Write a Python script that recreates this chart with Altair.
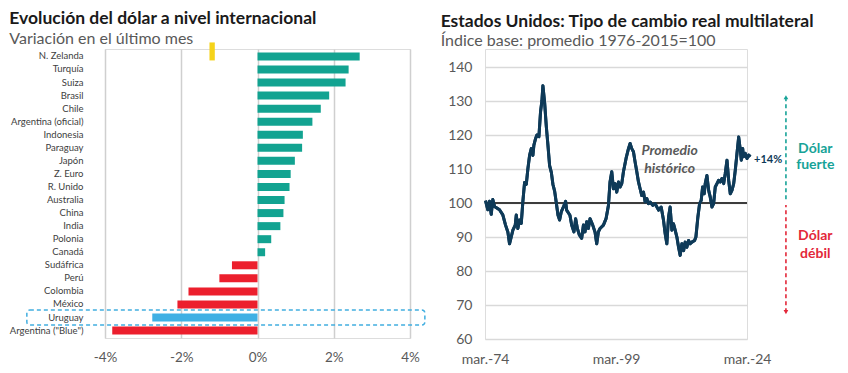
import altair as alt
import pandas as pd

# ---------------- Data: left panel ----------------
paises = ["N. Zelanda", "Turquía", "Suiza", "Brasil", "Chile", "Argentina (oficial)",
          "Indonesia", "Paraguay", "Japón", "Z. Euro", "R. Unido", "Australia", "China",
          "India", "Polonia", "Canadá", "Sudáfrica", "Perú", "Colombia", "México",
          "Uruguay", "Argentina (\"Blue\")"]
variacion = [2.68, 2.39, 2.31, 1.88, 1.66, 1.44, 1.19, 1.17, 0.98, 0.87, 0.84, 0.71, 0.68,
             0.60, 0.36, 0.20, -0.67, -1.00, -1.81, -2.10, -2.76, -3.81]
grupo = ["sube"] * 16 + ["baja"] * 4 + ["uruguay", "baja"]
grupo_dom = ["sube", "baja", "uruguay"]
grupo_col = ["#12a391", "#ec1f2d", "#3fb0e4"]
x_ticks_left = [-4, -2, 0, 2, 4]

# ---------------- Data: right panel ----------------
anios = [1974.27, 1974.71, 1975.03, 1975.36, 1975.66, 1975.99, 1976.94, 1977.57, 1978.09, 1978.53,
         1978.85, 1979.49, 1979.94, 1980.14, 1980.44, 1980.77, 1981.09, 1981.40, 1981.72, 1982.05,
         1982.35, 1982.68, 1983.00, 1983.31, 1983.50, 1983.83, 1984.07, 1984.46, 1984.78, 1985.03,
         1985.22, 1985.55, 1985.87, 1986.18, 1986.50, 1986.83, 1987.13, 1987.46, 1987.78, 1988.09,
         1988.41, 1988.74, 1989.18, 1989.56, 1989.75, 1990.38, 1990.71, 1991.15, 1991.47, 1991.80,
         1992.18, 1992.62, 1992.95, 1993.25, 1993.58, 1993.90, 1994.21, 1994.73, 1995.16, 1995.49,
         1995.81, 1996.12, 1996.77, 1997.27, 1997.73, 1998.03, 1998.36, 1998.68, 1998.99, 1999.32,
         1999.64, 1999.95, 2000.27, 2000.59, 2001.09, 2001.55, 2001.86, 2002.18, 2002.50, 2002.81,
         2003.14, 2003.46, 2003.77, 2004.09, 2004.42, 2004.73, 2005.05, 2005.37, 2005.68, 2006.20,
         2006.64, 2007.29, 2007.79, 2008.24, 2008.55, 2008.87, 2009.20, 2009.50, 2009.83, 2010.15,
         2010.46, 2010.79, 2011.11, 2011.42, 2011.74, 2012.07, 2012.37, 2012.70, 2013.02, 2013.33,
         2013.65, 2014.17, 2014.42, 2014.80, 2015.12, 2015.43, 2015.70, 2016.01, 2016.20, 2016.52,
         2016.85, 2017.15, 2017.48, 2017.80, 2018.11, 2018.44, 2018.76, 2019.07, 2019.39, 2019.72,
         2020.02, 2020.35, 2020.67, 2020.98, 2021.30, 2021.63, 2021.93, 2022.26, 2022.58, 2022.89,
         2023.08, 2023.35, 2023.50, 2023.84, 2024.17, 2024.50, 2024.80]
indice = [100.7, 98.0, 100.5, 96.7, 101.0, 99.0, 98.0, 96.5, 93.5, 91.5,
          88.0, 92.0, 93.5, 96.5, 92.5, 95.0, 94.0, 100.5, 106.0, 105.5,
          110.0, 114.0, 116.0, 114.0, 117.0, 119.0, 120.0, 119.5, 127.0, 130.0,
          134.5, 129.5, 122.5, 117.0, 111.0, 109.0, 105.5, 103.5, 100.0, 96.5,
          95.0, 97.5, 99.0, 100.5, 97.9, 96.4, 93.5, 91.5, 95.4, 92.5,
          90.6, 89.6, 93.5, 91.5, 94.5, 92.5, 95.4, 93.5, 91.5, 88.0,
          91.5, 92.5, 93.5, 95.4, 99.3, 106.2, 109.2, 104.2, 105.7, 103.2,
          106.2, 104.7, 105.7, 109.2, 113.1, 116.0, 117.5, 116.0, 115.1, 112.1,
          109.2, 106.2, 104.2, 102.2, 103.2, 100.3, 101.3, 99.8, 100.3, 99.3,
          99.8, 97.9, 98.8, 94.9, 91.0, 88.0, 95.9, 98.8, 92.0, 93.9,
          92.0, 90.0, 87.0, 84.6, 88.0, 86.0, 88.5, 87.0, 89.0, 88.0,
          88.5, 89.0, 90.0, 95.9, 99.8, 100.8, 104.7, 102.7, 105.7, 108.1,
          103.7, 101.8, 98.8, 99.8, 104.7, 105.7, 106.7, 106.2, 107.2, 105.7,
          108.7, 112.6, 106.7, 102.7, 103.7, 105.7, 109.6, 114.6, 119.4, 115.6,
          112.6, 116.0, 113.6, 114.6, 113.1, 114.1, 113.6]
x_ticks_right = [1974.17, 1999.17, 2024.17]
x_labels_right = ["mar.-74", "mar.-99", "mar.-24"]
y_ticks_right = [60, 70, 80, 90, 100, 110, 120, 130, 140]
promedio = [100]

FONT = "Lato"
GRAY = "#595959"
TEAL = "#17a398"
RED = "#e3283a"
NAVY = "#0e3a58"

# ---------------- Left panel ----------------
df_bar = pd.DataFrame({"pais": paises, "variacion": variacion, "grupo": grupo})
xsc = alt.Scale(domain=[-4, 4], nice=False, zero=False)
ysc = alt.Scale(paddingInner=0, paddingOuter=0.07)

bars = alt.Chart(df_bar).mark_bar(size=8).encode(
    x=alt.X("variacion:Q", scale=xsc,
            axis=alt.Axis(values=x_ticks_left, labelExpr="datum.value + '%'", grid=True,
                          gridColor="#cfcfcf", gridWidth=1.5, ticks=False, domain=False,
                          labelFontSize=13.5, labelColor=GRAY, labelPadding=12,
                          labelFlush=False, labelFont=FONT, title=None)),
    y=alt.Y("pais:N", sort=paises, scale=ysc,
            axis=alt.Axis(title=None, ticks=False, domain=False, labelFontSize=9.5,
                          labelColor="#404040", labelPadding=22, labelLimit=200,
                          labelFont=FONT)),
    color=alt.Color("grupo:N", scale=alt.Scale(domain=grupo_dom, range=grupo_col), legend=None),
)

highlight = alt.Chart(df_bar).transform_filter("datum.pais == 'Uruguay'").mark_bar(
    filled=False, stroke="#41aee0", strokeWidth=1.5, strokeDash=[4, 3], size=15,
    cornerRadius=3, clip=False
).encode(x=alt.datum(-6.05), x2=alt.datum(4.39), y=alt.Y("pais:N", sort=paises))

yellow = alt.Chart(df_bar).transform_filter("datum.pais == 'N. Zelanda'").mark_bar(
    size=18, yOffset=-5, color="#f5d31a", clip=False
).encode(x=alt.datum(-1.26), x2=alt.datum(-1.12), y=alt.Y("pais:N", sort=paises))

left = alt.layer(bars, highlight, yellow).properties(
    width=305, height=289,
    title=alt.TitleParams("Evolución del dólar a nivel internacional",
                          subtitle="Variación en el último mes", anchor="start",
                          frame="bounds", font=FONT, fontSize=17.5, fontWeight="bold",
                          color="#1a1a1a", subtitleFont=FONT, subtitleFontSize=16,
                          subtitleColor=GRAY, subtitlePadding=3, offset=-4.5),
)

# ---------------- Right panel ----------------
df_line = pd.DataFrame({"anio": anios, "indice": indice})
xr = alt.Scale(domain=[x_ticks_right[0], x_ticks_right[-1]], nice=False, zero=False)
yr = alt.Scale(domain=[60, 145.3], nice=False, zero=False)

label_expr = " : ".join(
    f"datum.value < {v + 1} ? '{l}'" for v, l in zip(x_ticks_right[:-1], x_labels_right[:-1])
) + f" : '{x_labels_right[-1]}'"

x_axis_r = alt.Axis(values=x_ticks_right, labelExpr=label_expr, grid=False, ticks=False,
                    domain=False, labelFontSize=14, labelColor=GRAY, labelPadding=13,
                    labelFlush=False, labelFont=FONT, title=None)
y_axis_r = alt.Axis(values=y_ticks_right, tickCount=9, grid=True, gridColor="#d9d9d9",
                    gridWidth=1.5, ticks=False, domain=False, labelFontSize=14,
                    labelColor=GRAY, labelPadding=13, labelFont=FONT, labelOverlap=False,
                    title=None)

line = alt.Chart(df_line).mark_line(color=NAVY, strokeWidth=3, strokeJoin="round").encode(
    x=alt.X("anio:Q", scale=xr, axis=x_axis_r),
    y=alt.Y("indice:Q", scale=yr, axis=y_axis_r),
)

rule100 = alt.Chart(pd.DataFrame({"p": promedio})).mark_rule(
    color="#3d3d3d", strokeWidth=2).encode(y=alt.Y("p:Q", scale=yr, axis=y_axis_r))

one = pd.DataFrame({"k": [0]})

def txt(x, y, text, color, size, italic=False, lh=17):
    return alt.Chart(one).mark_text(
        text=text, color=color, fontSize=size, fontWeight="bold", font=FONT,
        fontStyle="italic" if italic else "normal", lineHeight=lh, align="center",
        baseline="middle", clip=False
    ).encode(x=alt.XDatum(x, axis=x_axis_r), y=alt.YDatum(y, axis=y_axis_r))

prom = txt(2009.4, 115.2, ["Promedio", "histórico"], GRAY, 14, italic=True, lh=18)
pct = txt(2028.2, 112.6, "+14%", NAVY, 11)
fuerte = txt(2037.2, 115.9, ["Dólar", "fuerte"], TEAL, 14, lh=16)
debil = txt(2037.2, 90.2, ["Dólar", "débil"], RED, 14, lh=18)

def arrow(y1, y2, color, shape):
    r = alt.Chart(one).mark_rule(color=color, strokeWidth=1.6, strokeDash=[4, 3], clip=False).encode(
        x=alt.XDatum(2031.6, axis=x_axis_r), y=alt.YDatum(y1, axis=y_axis_r), y2=alt.datum(y2))
    h = alt.Chart(one).mark_point(shape=shape, filled=True, size=22, color=color, opacity=1,
                                  clip=False).encode(x=alt.XDatum(2031.6, axis=x_axis_r),
                                                     y=alt.YDatum(y1, axis=y_axis_r))
    return r + h

up = arrow(131.1, 100.4, TEAL, "triangle-up")
down = arrow(67.9, 99.4, RED, "triangle-down")

right = alt.layer(line, rule100, line, prom, pct, fuerte, debil, up, down).properties(
    width=262, height=290,
    title=alt.TitleParams("Estados Unidos: Tipo de cambio real multilateral",
                          subtitle="Índice base: promedio 1976-2015=100", anchor="start",
                          frame="bounds", font=FONT, fontSize=17.5, fontWeight="bold",
                          color="#1a1a1a", subtitleFont=FONT, subtitleFontSize=16,
                          subtitleColor=GRAY, subtitlePadding=3, offset=0, dx=-7),
)

chart = alt.hconcat(left, right, spacing=13).properties(
    padding={"left": 0, "top": 1, "right": 0, "bottom": 0}
).configure_view(stroke=None).configure(font=FONT)

chart.save("out.html", embed_options={"renderer": "svg", "actions": False})
